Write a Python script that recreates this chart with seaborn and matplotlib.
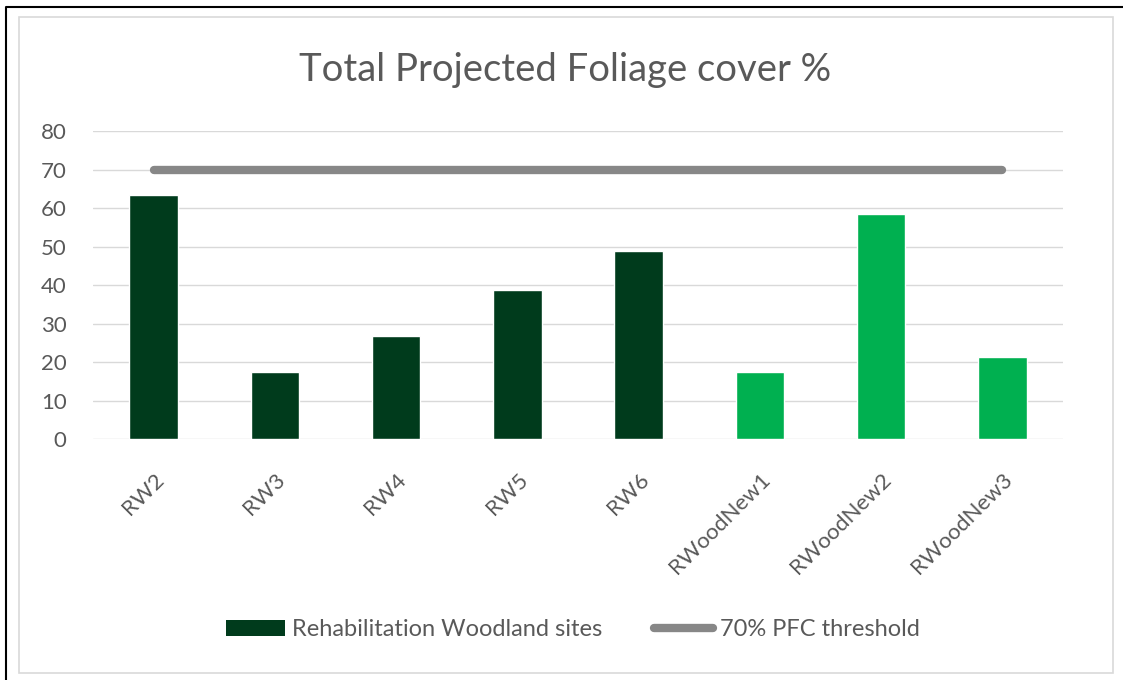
import numpy as np
import pandas as pd
import matplotlib
matplotlib.use("Agg")
import matplotlib.pyplot as plt
import seaborn as sns
from matplotlib.patches import Patch, Rectangle
from matplotlib.lines import Line2D

sites = ["RW2", "RW3", "RW4", "RW5", "RW6", "RWoodNew1", "RWoodNew2", "RWoodNew3"]
pfc = [63.3, 17.3, 26.8, 38.7, 48.8, 17.3, 58.6, 21.4]
group = ["old", "old", "old", "old", "old", "new", "new", "new"]
threshold = [70] * len(sites)
yticks = [0, 10, 20, 30, 40, 50, 60, 70, 80]

dark = "#003B1C"
bright = "#00B050"
grey_txt = "#595959"

sns.set_style("white")
plt.rcParams["font.family"] = ["Lato", "DejaVu Sans"]

df = pd.DataFrame({"site": sites, "pfc": pfc, "group": group})

fig = plt.figure(figsize=(11.23, 6.8), dpi=100)
ax = fig.add_axes([0.0828, 0.3544, 0.8638, 0.4526])

sns.barplot(data=df, x="site", y="pfc", hue="group", dodge=False,
            palette={"old": dark, "new": bright}, width=0.4, ax=ax,
            legend=False, saturation=1)
ax.plot(sites, threshold, color="#878787", lw=6, solid_capstyle="round", zorder=3)

ax.set_ylim(0, 80)
ax.set_xlim(-0.5, len(sites) - 0.5)
ax.set_yticks(yticks)
ax.yaxis.grid(True, color="#D9D9D9", lw=1)
ax.set_axisbelow(True)
for s in ax.spines.values():
    s.set_visible(False)
ax.set_xlabel("")
ax.set_ylabel("")
ax.tick_params(axis="both", length=0, colors=grey_txt, labelsize=16)
ax.tick_params(axis="y", pad=19)
plt.setp(ax.get_xticklabels(), rotation=45, ha="right", rotation_mode="anchor")
ax.tick_params(axis="x", pad=22)

fig.text(0.503, 0.897, "Total Projected Foliage cover %", ha="center", va="center",
         fontsize=27.5, color=grey_txt)

handles = [Patch(facecolor=dark, edgecolor="none"),
           Line2D([0], [0], color="#878787", lw=6, solid_capstyle="round")]
fig.legend(handles, ["Rehabilitation Woodland sites", "70% PFC threshold"],
           loc="center", bbox_to_anchor=(0.51, 0.074), ncol=2, frameon=False,
           fontsize=17, labelcolor=grey_txt, handlelength=2.5, handletextpad=0.3,
           columnspacing=2.2)

# chart frame and outer border
fig.patches.append(Rectangle((19 / 1123, 1 - 673 / 680), (1113 - 19) / 1123, (673 - 17) / 680,
                             transform=fig.transFigure, fill=False, edgecolor="#D9D9D9", lw=1.2))
fig.lines.append(Line2D([6 / 1123, 6 / 1123, 1], [0, 1 - 7 / 680, 1 - 7 / 680],
                        transform=fig.transFigure, color="black", lw=1.5))

fig.savefig("out.png", dpi=100)
